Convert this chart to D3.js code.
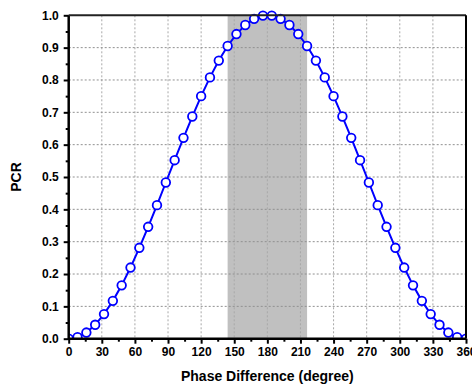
<!DOCTYPE html>
<html><head><meta charset="utf-8">
<script src="https://cdn.jsdelivr.net/npm/d3@7"></script>
<style>body{margin:0;background:#fff}svg{display:block}text{font-family:Arial,"Liberation Sans",sans-serif;font-weight:bold}</style>
</head><body><svg id="c" width="472" height="385"></svg>
<script>
const phase = [0,8,16,24,32,40,48,56,64,72,80,88,96,104,112,120,128,136,144,152,160,168,176,184,192,200,208,216,224,232,240,248,256,264,272,280,288,296,304,312,320,328,336,344,352,360];
const pcr = [0.000,0.005,0.019,0.043,0.076,0.117,0.165,0.220,0.281,0.346,0.413,0.483,0.552,0.621,0.687,0.750,0.808,0.860,0.905,0.942,0.970,0.989,0.999,0.999,0.989,0.970,0.942,0.905,0.860,0.808,0.750,0.687,0.621,0.552,0.483,0.413,0.346,0.281,0.220,0.165,0.117,0.076,0.043,0.019,0.005,0.000];
const band = [144, 216];
const xTicks = [0,30,60,90,120,150,180,210,240,270,300,330,360];
const yTicks = [0.0,0.1,0.2,0.3,0.4,0.5,0.6,0.7,0.8,0.9,1.0];

const svg = d3.select("#c");
const L=68.7, R=466, T=15.3, B=338.7;
const x = d3.scaleLinear().domain([0,360]).range([L,R]);
const y = d3.scaleLinear().domain([0,1]).range([B,T]);

svg.append("rect").attr("x",x(band[0])).attr("y",T).attr("width",x(band[1])-x(band[0])).attr("height",B-T).attr("fill","#c0c0c0");

const g = svg.append("g");
xTicks.slice(1,-1).forEach(v=>g.append("line").attr("x1",x(v)).attr("x2",x(v)).attr("y1",T).attr("y2",B).attr("stroke","#a8a8a8").attr("stroke-width",1).attr("stroke-dasharray","2,2"));
yTicks.slice(1,-1).forEach(v=>g.append("line").attr("x1",L).attr("x2",R).attr("y1",y(v)).attr("y2",y(v)).attr("stroke","#909090").attr("stroke-width",1).attr("stroke-dasharray","2,2"));

svg.append("clipPath").attr("id","cp").append("rect").attr("x",L).attr("y",T-8).attr("width",R-L).attr("height",B-T+8);
const dg = svg.append("g").attr("clip-path","url(#cp)");
dg.append("path").datum(phase.map((p,i)=>[p,pcr[i]]))
  .attr("d",d3.line().x(d=>x(d[0])).y(d=>y(d[1])))
  .attr("fill","none").attr("stroke","#0000ff").attr("stroke-width",2);
dg.selectAll("circle").data(phase.map((p,i)=>[p,pcr[i]])).enter().append("circle")
  .attr("cx",d=>x(d[0])).attr("cy",d=>y(d[1])).attr("r",4.3)
  .attr("fill","#fff").attr("stroke","#0000ff").attr("stroke-width",1.8);

const xAx = svg.append("g").attr("transform",`translate(0,${B})`)
  .call(d3.axisBottom(x).tickValues(xTicks).tickSize(5).tickPadding(4).tickFormat(d3.format("d")));
const xMin = svg.append("g").attr("transform",`translate(0,${B})`)
  .call(d3.axisBottom(x).tickValues(d3.range(15,360,30)).tickSize(3).tickFormat(""));
const yAx = svg.append("g").attr("transform",`translate(${L},0)`)
  .call(d3.axisLeft(y).tickValues(yTicks).tickSize(5).tickPadding(5).tickFormat(d3.format(".1f")));
const yMin = svg.append("g").attr("transform",`translate(${L},0)`)
  .call(d3.axisLeft(y).tickValues(d3.range(0.05,1,0.1)).tickSize(3).tickFormat(""));
[xAx,xMin,yAx,yMin].forEach(a=>{a.select(".domain").remove();a.selectAll("line").attr("stroke","#000").attr("stroke-width",2);});
svg.selectAll(".tick text").attr("font-size",12).attr("fill","#000").style("font-family","Arial,'Liberation Sans',sans-serif").style("font-weight","bold");

svg.append("line").attr("x1",L).attr("x2",R).attr("y1",B).attr("y2",B).attr("stroke","#000").attr("stroke-width",2.5);
svg.append("line").attr("x1",L).attr("x2",L).attr("y1",T).attr("y2",B+1).attr("stroke","#000").attr("stroke-width",2.5);
svg.append("line").attr("x1",L).attr("x2",R).attr("y1",T).attr("y2",T).attr("stroke","#222").attr("stroke-width",2);
svg.append("line").attr("x1",R).attr("x2",R).attr("y1",T).attr("y2",B).attr("stroke","#000").attr("stroke-width",2);

svg.append("text").attr("x",(L+R)/2).attr("y",381).attr("text-anchor","middle").attr("font-size",14).text("Phase Difference (degree)");
svg.append("text").attr("transform",`translate(21,${(T+B)/2}) rotate(-90)`).attr("text-anchor","middle").attr("font-size",14).text("PCR");
</script></body></html>
